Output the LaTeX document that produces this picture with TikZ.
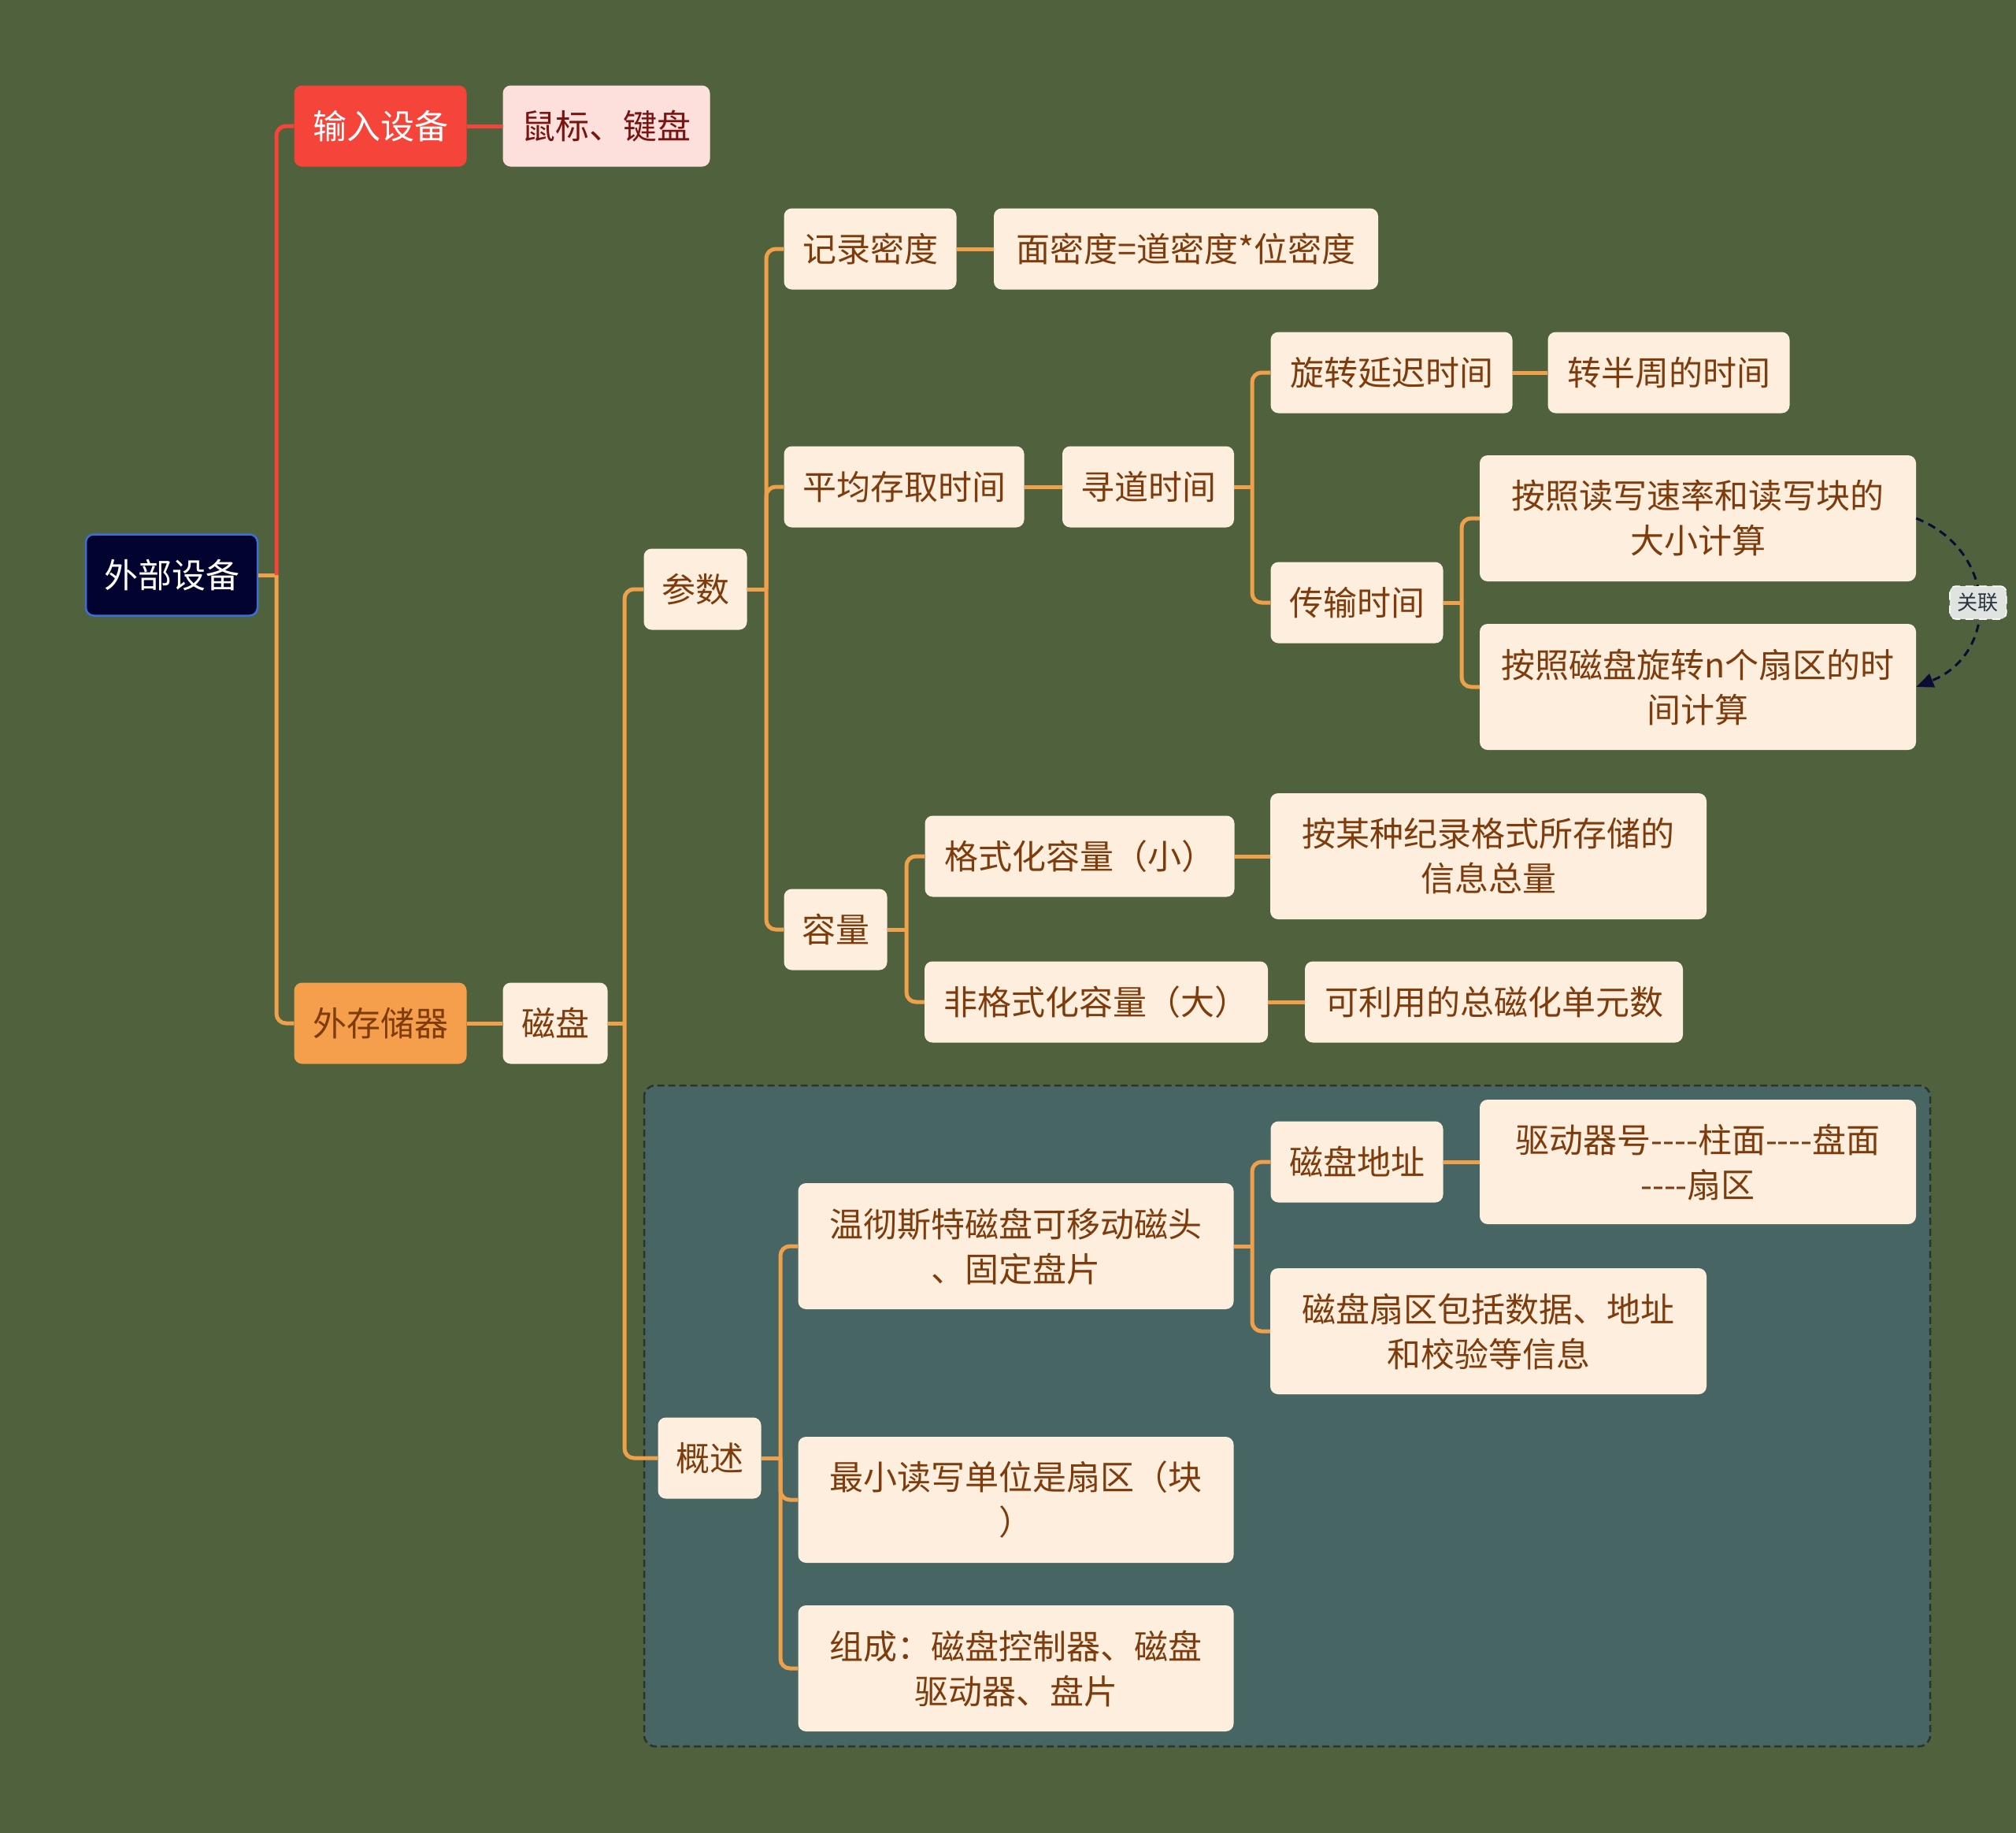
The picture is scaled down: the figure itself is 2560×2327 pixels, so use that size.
\documentclass[tikz,border=0pt]{standalone}
\usepackage{fontspec}
\setmainfont{Noto Sans CJK SC}
\usetikzlibrary{arrows.meta}

\definecolor{bgcol}{HTML}{50623D}
\definecolor{rootfill}{HTML}{03032F}
\definecolor{rootline}{HTML}{3B6FD6}
\definecolor{redfill}{HTML}{F5443A}
\definecolor{pinkfill}{HTML}{FDE0DC}
\definecolor{pinktext}{HTML}{7A1410}
\definecolor{orangefill}{HTML}{F59E4C}
\definecolor{leaffill}{HTML}{FDEEDE}
\definecolor{leaftext}{HTML}{7E3C0C}
\definecolor{branchcol}{HTML}{EFA04A}
\definecolor{groupfill}{HTML}{466563}
\definecolor{groupline}{HTML}{2A332E}
\definecolor{relcol}{HTML}{0B0B33}
\definecolor{reltext}{HTML}{2B3440}
\definecolor{relfill}{HTML}{DFE4E0}

\tikzset{
  box/.style={rounded corners=10pt, minimum height=103pt, inner sep=0pt,
    align=center, font=\fontsize{43}{57}\selectfont},
  rootnode/.style={box, fill=rootfill, draw=rootline, line width=2.5pt, text=white},
  redtopic/.style={box, fill=redfill, text=white},
  redleaf/.style={box, fill=pinkfill, text=pinktext},
  orangetopic/.style={box, fill=orangefill, text=leaftext},
  leaf/.style={box, fill=leaffill, text=leaftext},
  twoline/.style={minimum height=160pt},
  branch/.style={draw=branchcol, line width=5pt, rounded corners=12pt},
  redbranch/.style={branch, draw=redfill},
  rel/.style={draw=relcol, line width=3pt, dash pattern=on 10pt off 7pt,
    -{Triangle[length=22pt,width=18pt]}},
  rellabel/.style={fill=relfill, draw=white, line width=1.5pt, rounded corners=8pt,
    text=reltext, inner xsep=10pt, inner ysep=9pt, font=\fontsize{26}{30}\selectfont}
}

\begin{document}
\begin{tikzpicture}[x=1pt,y=1pt,yscale=-1]
\useasboundingbox[fill=bgcol] (0,0) rectangle (2560,2327);

% group frame
\draw[fill=groupfill, draw=groupline, line width=2.5pt, dash pattern=on 9pt off 5pt,
  rounded corners=14pt] (818,1378) rectangle (2451,2217);

% nodes
\node[rootnode, minimum width=218pt] (root) at (218,730) {外部设备};
\node[redtopic, minimum width=219pt] (input) at (483,160) {输入设备};
\node[redleaf, minimum width=263pt] (mouse) at (770,160) {鼠标、键盘};
\node[orangetopic, minimum width=219pt] (store) at (483,1299) {外存储器};
\node[leaf, minimum width=133pt] (disk) at (705,1299) {磁盘};

\node[leaf, minimum width=131pt] (param) at (883,748) {参数};
\node[leaf, minimum width=219pt] (dens) at (1105,316) {记录密度};
\node[leaf, minimum width=488pt] (area) at (1506,316) {面密度=道密度*位密度};
\node[leaf, minimum width=305pt] (avg) at (1148,618) {平均存取时间};
\node[leaf, minimum width=218pt] (seek) at (1458,618) {寻道时间};
\node[leaf, minimum width=307pt] (rot) at (1767,473) {旋转延迟时间};
\node[leaf, minimum width=307pt] (half) at (2119,473) {转半周的时间};
\node[leaf, minimum width=219pt] (trans) at (1723,765) {传输时间};
\node[leaf, twoline, minimum width=554pt] (rate) at (2156,658) {按照读写速率和读写块的\\大小计算};
\node[leaf, twoline, minimum width=554pt] (nsec) at (2156,872) {按照磁盘旋转n个扇区的时\\间计算};
\node[leaf, minimum width=131pt] (cap) at (1061,1180) {容量};
\node[leaf, minimum width=393pt] (fmt) at (1371,1087) {格式化容量（小）};
\node[leaf, twoline, minimum width=554pt] (fmtinfo) at (1890,1087) {按某种纪录格式所存储的\\信息总量};
\node[leaf, minimum width=436pt] (unfmt) at (1392,1272) {非格式化容量（大）};
\node[leaf, minimum width=480pt] (units) at (1897,1272) {可利用的总磁化单元数};

\node[leaf, minimum width=131pt] (over) at (901,1851) {概述};
\node[leaf, twoline, minimum width=553pt] (win) at (1290,1582) {温彻斯特磁盘可移动磁头\\、固定盘片};
\node[leaf, minimum width=219pt] (addr) at (1723,1475) {磁盘地址};
\node[leaf, twoline, minimum width=554pt, minimum height=158pt] (drive) at (2156,1475) {驱动器号-{}-{}-{}-柱面-{}-{}-{}-盘面\\-{}-{}-{}-扇区};
\node[leaf, twoline, minimum width=554pt] (sector) at (1890,1690) {磁盘扇区包括数据、地址\\和校验等信息};
\node[leaf, twoline, minimum width=553pt] (minunit) at (1290,1904) {最小读写单位是扇区（块\\）};
\node[leaf, twoline, minimum width=553pt] (comp) at (1290,2118) {组成：磁盘控制器、磁盘\\驱动器、盘片};

% junctions
\coordinate (jroot) at (351,730);
\coordinate (jdisk) at (793,1299);
\coordinate (jparam) at (973,748);
\coordinate (jseek) at (1590,618);
\coordinate (jtrans) at (1856,765);
\coordinate (jcap) at (1151,1180);
\coordinate (jover) at (991,1851);
\coordinate (jwin) at (1590,1582);

% connectors
\draw[branch] (root.east) -- (jroot);
\draw[redbranch] (jroot) |- (input.west);
\draw[branch] (jroot) |- (store.west);
\draw[redbranch] (input.east) -- (mouse.west);
\draw[branch] (store.east) -- (disk.west);

\draw[branch] (disk.east) -- (jdisk);
\draw[branch] (jdisk) |- (param.west);
\draw[branch] (jdisk) |- (over.west);

\draw[branch] (param.east) -- (jparam);
\draw[branch] (jparam) |- (dens.west);
\draw[branch] (jparam) |- (avg.west);
\draw[branch] (jparam) |- (cap.west);
\draw[branch] (dens.east) -- (area.west);
\draw[branch] (avg.east) -- (seek.west);

\draw[branch] (seek.east) -- (jseek);
\draw[branch] (jseek) |- (rot.west);
\draw[branch] (jseek) |- (trans.west);
\draw[branch] (rot.east) -- (half.west);

\draw[branch] (trans.east) -- (jtrans);
\draw[branch] (jtrans) |- (rate.west);
\draw[branch] (jtrans) |- (nsec.west);

\draw[branch] (cap.east) -- (jcap);
\draw[branch] (jcap) |- (fmt.west);
\draw[branch] (jcap) |- (unfmt.west);
\draw[branch] (fmt.east) -- (fmtinfo.west);
\draw[branch] (unfmt.east) -- (units.west);

\draw[branch] (over.east) -- (jover);
\draw[branch] (jover) |- (win.west);
\draw[branch] (jover) |- (minunit.west);
\draw[branch] (jover) |- (comp.west);

\draw[branch] (win.east) -- (jwin);
\draw[branch] (jwin) |- (addr.west);
\draw[branch] (jwin) |- (sector.west);
\draw[branch] (addr.east) -- (drive.west);

% relation
\draw[rel] (rate.east) .. controls (2538,700) and (2538,830) .. node[rellabel, pos=0.5] (rel) {关联} (nsec.east);
\end{tikzpicture}
\end{document}
